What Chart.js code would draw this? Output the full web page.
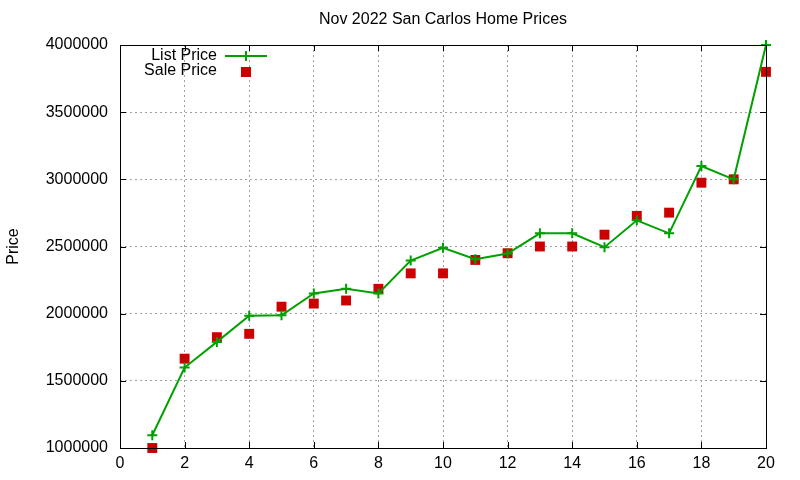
<!DOCTYPE html>
<html lang="en">
<head>
  <meta charset="UTF-8" />
  <title>Nov 2022 San Carlos Home Prices</title>
  <script src="https://cdn.jsdelivr.net/npm/chart.js"></script>
  <style>
    html, body { margin: 0; padding: 0; background: #fff; }
    #wrap { width: 800px; height: 480px; }
  </style>
</head>
<body>
  <div id="wrap"><canvas id="priceChart" width="800" height="480"></canvas></div>

  <script>
    const homes = [1, 2, 3, 4, 5, 6, 7, 8, 9, 10, 11, 12, 13, 14, 15, 16, 17, 18, 19, 20];
    const listPrice = [1095000, 1599000, 1790000, 1985000, 1988000, 2150000, 2185000, 2150000, 2395000, 2490000,
                       2405000, 2448000, 2598000, 2598000, 2495000, 2695000, 2598000, 3099000, 3000000, 4000000];
    const salePrice = [1000000, 1665000, 1825000, 1850000, 2052000, 2075000, 2098000, 2185000, 2300000, 2300000,
                       2400000, 2450000, 2500000, 2500000, 2588000, 2728000, 2752000, 2975000, 3000000, 3800000];
    const xTicks = [0, 2, 4, 6, 8, 10, 12, 14, 16, 18, 20];
    const yTicks = [1000000, 1500000, 2000000, 2500000, 3000000, 3500000, 4000000];

    const green = '#00a000';
    const red = '#cc0000';
    const font = 'Liberation Sans, Arial, sans-serif';

    // gnuplot-ish frame: full border, inward ticks on all sides, title and legend
    const framePlugin = {
      id: 'frame',
      afterDraw(chart) {
        const { ctx, chartArea: a, scales: { x, y } } = chart;
        ctx.save();
        ctx.strokeStyle = '#000';
        ctx.lineWidth = 1;
        ctx.strokeRect(a.left + 0.5, a.top + 0.5, a.right - a.left, a.bottom - a.top);
        ctx.beginPath();
        xTicks.forEach(v => {
          const px = Math.round(x.getPixelForValue(v)) + 0.5;
          ctx.moveTo(px, a.bottom); ctx.lineTo(px, a.bottom - 6);
          ctx.moveTo(px, a.top); ctx.lineTo(px, a.top + 6);
        });
        yTicks.forEach(v => {
          const py = Math.round(y.getPixelForValue(v)) + 0.5;
          ctx.moveTo(a.left, py); ctx.lineTo(a.left + 6, py);
          ctx.moveTo(a.right, py); ctx.lineTo(a.right - 6, py);
        });
        ctx.stroke();

        // title
        ctx.fillStyle = '#000';
        ctx.font = '16px ' + font;
        ctx.textAlign = 'center';
        ctx.textBaseline = 'middle';
        ctx.fillText('Nov 2022 San Carlos Home Prices', (a.left + a.right) / 2, 20);

        // legend
        ctx.textAlign = 'right';
        ctx.fillText('List Price', 217, 56);
        ctx.fillText('Sale Price', 217, 71);
        ctx.strokeStyle = green;
        ctx.lineWidth = 2;
        ctx.beginPath();
        ctx.moveTo(225, 56); ctx.lineTo(267, 56);
        ctx.moveTo(246, 51); ctx.lineTo(246, 61);
        ctx.stroke();
        ctx.fillStyle = red;
        ctx.fillRect(241, 67, 10, 10);
        ctx.restore();
      }
    };

    new Chart(document.getElementById('priceChart'), {
      type: 'line',
      data: {
        datasets: [
          {
            label: 'List Price',
            data: homes.map((h, i) => ({ x: h, y: listPrice[i] })),
            borderColor: green,
            backgroundColor: green,
            borderWidth: 2,
            pointStyle: 'cross',
            pointRadius: 5,
            pointBorderWidth: 2,
            tension: 0,
            clip: false
          },
          {
            label: 'Sale Price',
            data: homes.map((h, i) => ({ x: h, y: salePrice[i] })),
            showLine: false,
            borderColor: red,
            backgroundColor: red,
            pointStyle: 'rect',
            pointRadius: 7,
            pointBorderWidth: 0,
            clip: false
          }
        ]
      },
      options: {
        responsive: false,
        animation: false,
        layout: { padding: { left: 0, right: 34, top: 45, bottom: 0 } },
        plugins: {
          legend: { display: false },
          title: { display: false },
          tooltip: { enabled: false }
        },
        scales: {
          x: {
            type: 'linear',
            min: 0,
            max: 20,
            afterBuildTicks: s => { s.ticks = xTicks.map(v => ({ value: v })); },
            afterFit: s => { s.height = 32; },
            grid: { color: '#a0a0a0', drawTicks: false },
            border: { display: false, dash: [2, 3] },
            ticks: { color: '#000', padding: 6, font: { family: font, size: 16 } }
          },
          y: {
            min: 1000000,
            max: 4000000,
            afterBuildTicks: s => { s.ticks = yTicks.map(v => ({ value: v })); },
            afterFit: s => { s.width = 120; },
            grid: { color: '#a0a0a0', drawTicks: false },
            border: { display: false, dash: [2, 3] },
            title: { display: true, text: 'Price', color: '#000', padding: { top: 4, bottom: 0 }, font: { family: font, size: 16 } },
            ticks: { color: '#000', padding: 12, font: { family: font, size: 16 }, callback: v => String(v) }
          }
        }
      },
      plugins: [framePlugin]
    });
  </script>
</body>
</html>
